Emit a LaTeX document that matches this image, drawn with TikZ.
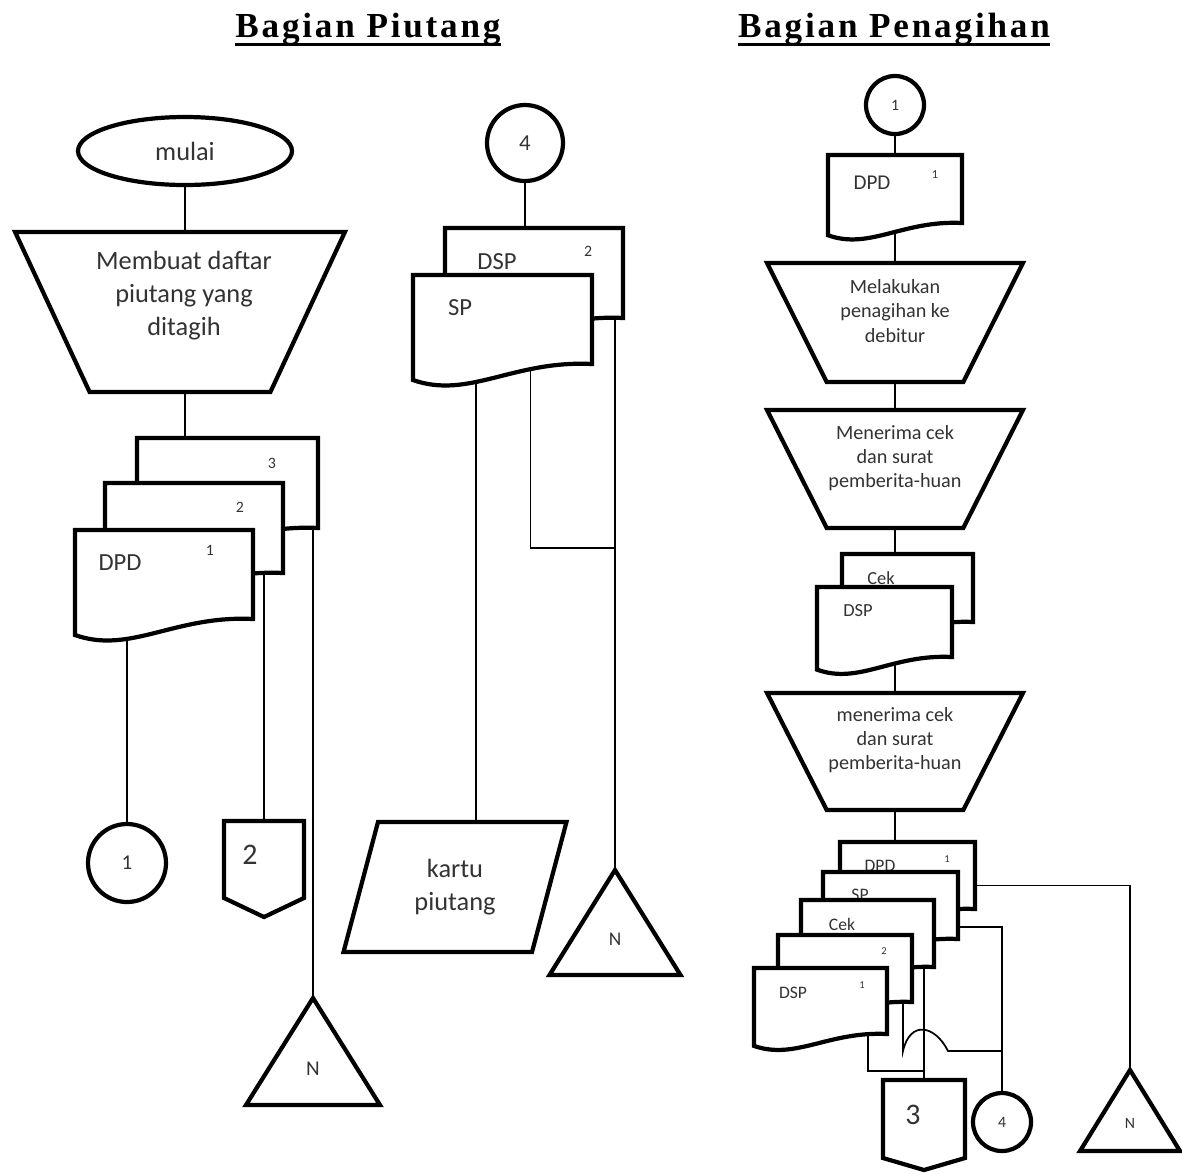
\documentclass[tikz,border=0pt]{standalone}
\usepackage{fontspec}
\setmainfont{Carlito}
\newfontfamily\judulfont[LetterSpace=8]{Liberation Serif}
\usetikzlibrary{shapes.geometric, backgrounds}

\newlength{\pxl}
\setlength{\pxl}{0.02cm}

\tikzset{
  garis/.style={draw, line width=2.4pt, fill=white},
  hubung/.style={draw, line width=1pt},
  kotak/.style={rectangle, inner sep=0pt, outer sep=0pt},
  judul/.style={font=\judulfont\bfseries\fontsize{20}{24}\selectfont, inner sep=0pt, anchor=base},
  teks/.style={text=black!80, inner sep=0pt, align=center},
  ukuran/.style={teks, font=\fontsize{#1}{#1}\selectfont},
  besar/.style={teks, font=\fontsize{15}{18.8}\selectfont},
  sedang/.style={teks, font=\fontsize{11.5}{13.8}\selectfont},
  terminal/.style={ellipse, garis, inner sep=0pt, text=black!80},
  manual/.style={trapezium, garis, shape border rotate=180, trapezium stretches=true, inner sep=3pt},
  sambung/.style={circle, garis, inner sep=0pt, text=black!80}
}

% dokumen: nama, kiri, atas, lebar, tinggi (px)
\newcommand{\dok}[5]{%
  \node[kotak, anchor=north west, minimum width=#4\pxl, minimum height=#5\pxl] (#1) at (#2,#3) {};
  \draw[garis, shift={(#1.north west)}] (0,0) -- (#4,0) -- (#4,#5)
    .. controls ({0.56*#4},{0.955*#5}) and ({0.31*#4},{1.4*#5}) .. (0,{1.18*#5}) -- cycle;
}
% penghubung halaman: nama, kiri, atas, lebar, tinggi, ujung
\newcommand{\halaman}[6]{%
  \node[kotak, anchor=north west, minimum width=#4\pxl, minimum height=#5\pxl] (#1) at (#2,#3) {};
  \draw[garis] (#1.north west) -- (#1.north east) -- (#1.south east)
    -- ([shift={(0,#6)}]#1.south) -- (#1.south west) -- cycle;
}
% arsip: nama, x puncak, y puncak, lebar alas, tinggi
\newcommand{\segitiga}[5]{%
  \node[kotak, anchor=north, minimum width=#4\pxl, minimum height=#5\pxl] (#1) at (#2,#3) {};
  \draw[garis] (#1.north) -- (#1.south east) -- (#1.south west) -- cycle;
}

\begin{document}
\begin{tikzpicture}[x=0.02cm, y=-0.02cm]
\useasboundingbox (0,0) rectangle (1182,1174);

\node[judul] (jPiutang) at (368,37) {Bagian Piutang};
\node[judul] (jPenagihan) at (894,37) {Bagian Penagihan};
\draw[line width=1.7pt] ([yshift=-4.5pt]jPiutang.base west) -- ([yshift=-4.5pt]jPiutang.base east);
\draw[line width=1.7pt] ([yshift=-4.5pt]jPenagihan.base west) -- ([yshift=-4.5pt]jPenagihan.base east);

% Bagian Piutang
\node[terminal, minimum width=214\pxl, minimum height=68\pxl, font=\fontsize{15}{18}\selectfont] (mulai) at (185,151) {mulai};
\node[manual, minimum width=330\pxl, minimum height=160\pxl, trapezium left angle=67.6, trapezium right angle=67.6] (buat) at (180,312) {};
\node[besar] (buat-t) at (184,296) {Membuat daftar\\piutang yang\\ditagih};

\dok{dpd3}{137}{438}{181}{90}
\node[ukuran=9] (dpd3-n) at ([shift={(135,25)}]dpd3.north west) {3};
\dok{dpd2}{105}{483}{178}{90}
\node[ukuran=9] (dpd2-n) at ([shift={(135,24)}]dpd2.north west) {2};
\dok{dpd1}{75}{530}{178}{89}
\node[ukuran=14] (dpd1-t) at ([shift={(45,33)}]dpd1.north west) {DPD};
\node[ukuran=9] (dpd1-n) at ([shift={(135,20)}]dpd1.north west) {1};

\node[sambung, minimum size=78\pxl, font=\fontsize{12}{12}\selectfont] (k1) at (127,863) {1};
\halaman{hal2}{224}{821}{80}{77}{19}
\node[ukuran=17] (hal2-t) at ([shift={(26,34)}]hal2.north west) {2};
\segitiga{nA}{313}{998}{134}{107}
\node[ukuran=12] (nA-t) at ([shift={(0,17)}]nA.center) {N};

% tengah
\node[sambung, minimum size=76\pxl, font=\fontsize{13}{13}\selectfont] (k4) at (525,143) {4};
\dok{dspA}{445}{228}{178}{90}
\node[ukuran=14] (dspA-t) at ([shift={(52,34)}]dspA.north west) {DSP};
\node[ukuran=9] (dspA-n) at ([shift={(143,23)}]dspA.north west) {2};
\dok{spA}{413}{275}{179}{89}
\node[ukuran=14] (spA-t) at ([shift={(47,33)}]spA.north west) {SP};

\node[trapezium, garis, trapezium left angle=72, trapezium right angle=108, trapezium stretches=true,
  minimum width=224\pxl, minimum height=130\pxl, inner sep=3pt, besar] (kartu) at (455,887) {kartu\\piutang};
\segitiga{nB}{615}{870}{131}{105}
\node[ukuran=11] (nB-t) at ([shift={(0,17)}]nB.center) {N};
\coordinate (kartuAtas) at ([shift={(21,-65)}]kartu.center);
\coordinate (jB) at (nB.north |- 0,548);

% Bagian Penagihan
\node[sambung, minimum size=58\pxl, font=\fontsize{9}{9}\selectfont] (k1r) at (895,105) {1};
\dok{dpdR}{828}{155}{134}{68}
\node[ukuran=12] (dpdR-t) at ([shift={(44,28)}]dpdR.north west) {DPD};
\node[ukuran=7] (dpdR-n) at ([shift={(107,20)}]dpdR.north west) {1};

\node[manual, minimum width=256\pxl, minimum height=119\pxl, trapezium left angle=66.4, trapezium right angle=66.4] (tagih) at (895,322.5) {};
\node[sedang] (tagih-t) at (895,311) {Melakukan\\penagihan ke\\debitur};
\node[manual, minimum width=256\pxl, minimum height=118\pxl, trapezium left angle=66.4, trapezium right angle=66.4] (terima1) at (895,469) {};
\node[sedang] (terima1-t) at (895,458) {Menerima cek\\dan surat\\pemberita-huan};

\dok{cekR}{842}{554}{131}{68}
\node[ukuran=10.5] (cekR-t) at ([shift={(39,24)}]cekR.north west) {Cek};
\dok{dspR}{817}{587}{135}{70}
\node[ukuran=10.5] (dspR-t) at ([shift={(41,24)}]dspR.north west) {DSP};

\node[manual, minimum width=256\pxl, minimum height=117\pxl, trapezium left angle=66.4, trapezium right angle=66.4] (terima2) at (895,751.5) {};
\node[sedang] (terima2-t) at (895,740) {menerima cek\\dan surat\\pemberita-huan};

\dok{dpdS}{840}{842}{135}{67}
\node[ukuran=10] (dpdS-t) at ([shift={(40,24)}]dpdS.north west) {DPD};
\node[ukuran=6] (dpdS-n) at ([shift={(107,17)}]dpdS.north west) {1};
\dok{spS}{823}{872}{135}{67}
\node[ukuran=10] (spS-t) at ([shift={(37,23)}]spS.north west) {SP};
\dok{cekS}{801}{900}{133}{67}
\node[ukuran=10] (cekS-t) at ([shift={(41,24)}]cekS.north west) {Cek};
\dok{duaS}{778}{935}{134}{67}
\node[ukuran=6] (duaS-n) at ([shift={(106,16)}]duaS.north west) {2};
\dok{dspS}{754}{968}{133}{66}
\node[ukuran=10] (dspS-t) at ([shift={(39,25)}]dspS.north west) {DSP};
\node[ukuran=6] (dspS-n) at ([shift={(108,17)}]dspS.north west) {1};

\halaman{hal3}{883}{1080}{82}{78}{12}
\node[ukuran=17] (hal3-t) at ([shift={(30,35)}]hal3.north west) {3};
\node[sambung, minimum size=58\pxl, font=\fontsize{9}{9}\selectfont] (k4r) at (1002,1122) {4};
\segitiga{nC}{1130}{1070}{100}{81}
\node[ukuran=9] (nC-t) at ([shift={(0,13)}]nC.center) {N};
\coordinate (jC) at (k4r |- 0,1051);
\coordinate (lompat) at (903,1051);

\begin{pgfonlayer}{background}
  \draw[hubung] (mulai) -- (mulai |- buat.center);
  \draw[hubung] (mulai |- buat.center) -- (mulai |- dpd3.center);
  \draw[hubung] (k1) -- (k1 |- dpd1.center);
  \draw[hubung] (hal2) -- (hal2 |- dpd2.center);
  \draw[hubung] (nA) -- (nA |- dpd3.center);

  \draw[hubung] (k4) -- (k4 |- dspA.center);
  \draw[hubung] (kartuAtas) -- (kartuAtas |- spA.center);
  \draw[hubung] ([shift={(28,0)}]spA.center) |- (jB);
  \draw[hubung] (nB.north) -- (nB.north |- dspA.center);

  \draw[hubung] (k1r) -- (k1r |- dpdR.center);
  \draw[hubung] (tagih) -- (tagih |- dpdR.center);
  \draw[hubung] (tagih) -- (terima1);
  \draw[hubung] (terima1) -- (terima1 |- cekR.center);
  \draw[hubung] (terima2) -- (terima2 |- dspR.center);
  \draw[hubung] (terima2) -- (terima2 |- dpdS.center);

  \draw[hubung] ([shift={(0,10)}]dpdS.center) -| (nC.north);
  \draw[hubung] ([shift={(0,21.5)}]spS.center) -| (k4r);
  \draw[hubung] (lompat |- duaS.center) -- (lompat) .. controls +(7,-31) and +(-13,-26) .. ++(45,0) -- (jC);
  \draw[hubung] (hal3) -- (hal3 |- cekS.center);
  \draw[hubung] ([shift={(47.5,0)}]dspS.center) |- ([shift={(0,-9)}]hal3.north);
\end{pgfonlayer}
\end{tikzpicture}
\end{document}
